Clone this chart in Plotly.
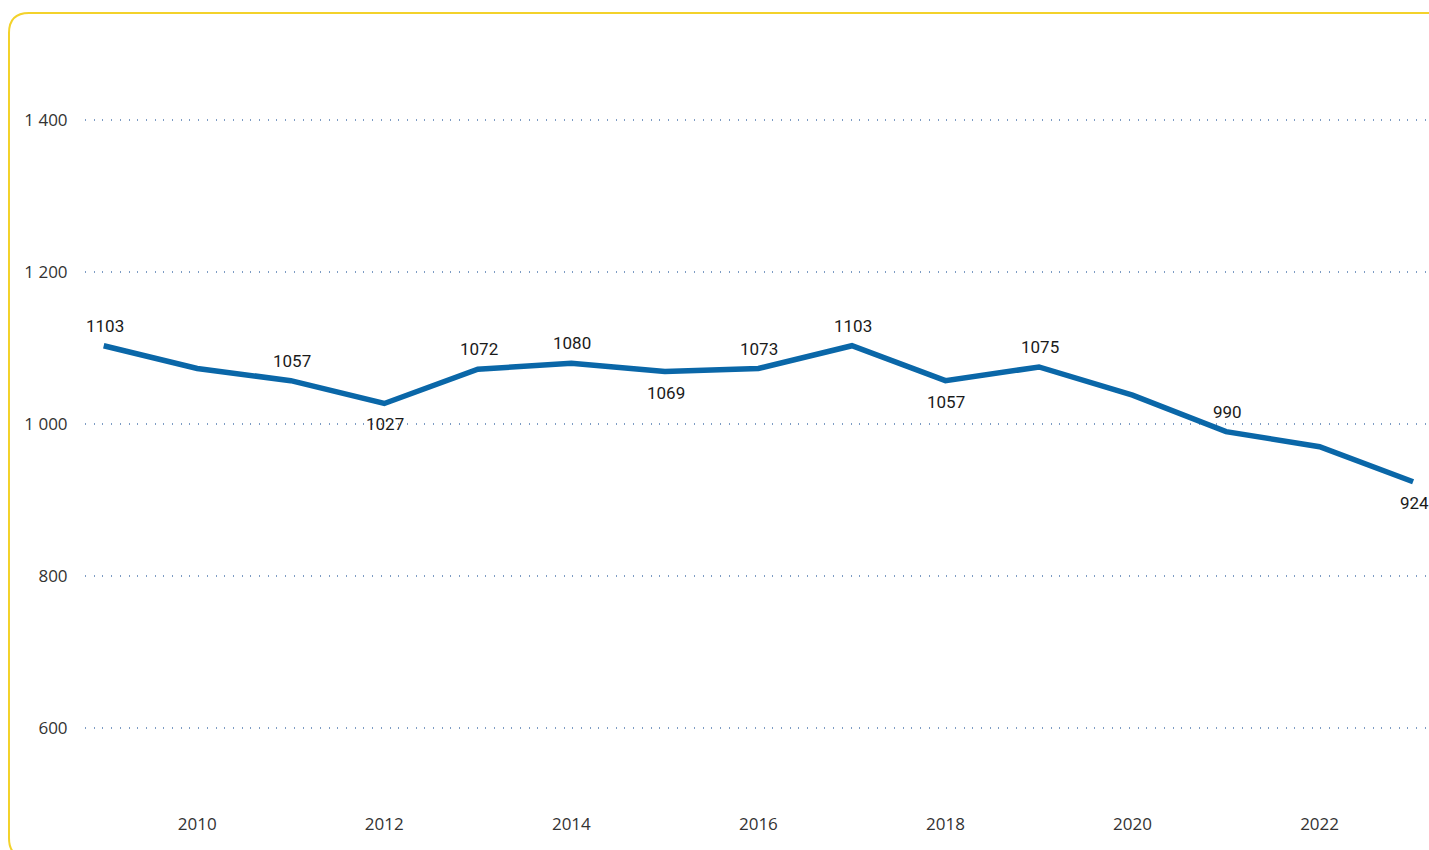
import plotly.graph_objects as go

years = list(range(2009, 2024))
values = [1103, 1073, 1057, 1027, 1072, 1080, 1069, 1073, 1103, 1057, 1075, 1038, 990, 970, 924]
labels = ["1103", "", "1057", "1027", "1072", "1080", "1069", "1073", "1103", "1057", "1075", "", "990", "", "924"]
label_side = ["above", "", "above", "below", "above", "above", "below", "above", "above", "below", "above", "", "above", "", "below"]
y_ticks = [600, 800, 1000, 1200, 1400]
y_ticktext = ["600", "800", "1 000", "1 200", "1 400"]
x_ticks = [2010, 2012, 2014, 2016, 2018, 2020, 2022]

W, H = 1429, 850
L, R, T, B = 85, 0, 44, 42
pw, ph = W - L - R, H - T - B

def px(x):
    return (x - L) / pw

def py(y):
    return (H - B - y) / ph

fig = go.Figure()
fig.add_trace(go.Scatter(
    x=years, y=values, mode="lines",
    line=dict(color="#0a67a8", width=5.5),
    hoverinfo="x+y", showlegend=False, cliponaxis=False,
))

for xv, yv, t, s in zip(years, values, labels, label_side):
    if not t:
        continue
    fig.add_annotation(
        x=xv, y=yv, text=t, showarrow=False,
        yshift=20 if s == "above" else -21,
        xshift=1,
        font=dict(family="Roboto", size=17, color="#1a1a1a"),
    )

# rounded yellow frame
x0, y0, x1, y1, r = 9, 13, 1448, 858, 20
path = (
    f"M {px(x0)},{py(y1 - r)} "
    f"L {px(x0)},{py(y0 + r)} "
    f"Q {px(x0)},{py(y0)} {px(x0 + r)},{py(y0)} "
    f"L {px(x1 - r)},{py(y0)} "
    f"Q {px(x1)},{py(y0)} {px(x1)},{py(y0 + r)} "
    f"L {px(x1)},{py(y1 - r)} "
    f"Q {px(x1)},{py(y1)} {px(x1 - r)},{py(y1)} "
    f"L {px(x0 + r)},{py(y1)} "
    f"Q {px(x0)},{py(y1)} {px(x0)},{py(y1 - r)} Z"
)
fig.add_shape(type="path", path=path, xref="paper", yref="paper",
              line=dict(color="#f3d22b", width=2), layer="below")

fig.update_layout(
    width=W, height=H,
    margin=dict(l=L, r=R, t=T, b=B),
    paper_bgcolor="white", plot_bgcolor="white",
    font=dict(family="Open Sans", size=17, color="#333333"),
    xaxis=dict(
        range=[2008.80, 2023.17], tickvals=x_ticks, showgrid=False,
        zeroline=False, showline=False,
        ticks="outside", ticklen=1, tickcolor="rgba(0,0,0,0)",
        tickfont=dict(family="Open Sans", size=17, color="#333333"),
    ),
    yaxis=dict(
        range=[494.7, 1500], tickvals=y_ticks, ticktext=y_ticktext,
        showgrid=True, gridcolor="#7d9cc4", gridwidth=1.5, griddash="1px,7.7px",
        zeroline=False, showline=False,
        ticks="outside", ticklen=13, tickcolor="rgba(0,0,0,0)",
        tickfont=dict(family="Open Sans", size=17, color="#333333"),
    ),
)

fig.write_html(
    "out.html",
    config={"displayModeBar": False},
    post_script="document.body.style.margin='0';document.body.style.overflow='hidden';",
)
